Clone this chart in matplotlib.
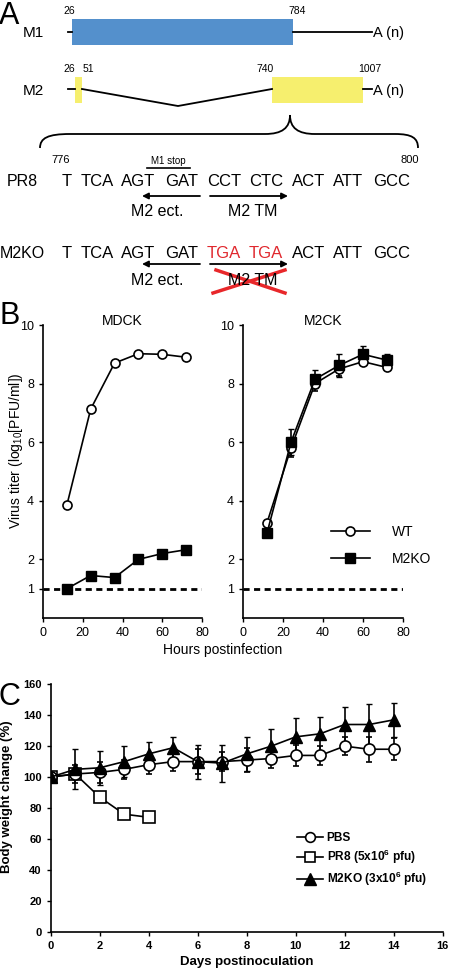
import matplotlib
matplotlib.use('Agg')
import matplotlib.pyplot as plt
from matplotlib.path import Path
from matplotlib.patches import PathPatch, Rectangle
from matplotlib.lines import Line2D
import numpy as np

plt.rcParams['font.family'] = ['Liberation Sans', 'DejaVu Sans']
plt.rcParams['mathtext.fontset'] = 'custom'
plt.rcParams['mathtext.rm'] = 'Liberation Sans'
plt.rcParams['mathtext.bf'] = 'Liberation Sans:bold'

# ---- panel A text ----
pr8_codons = ['T', 'TCA', 'AGT', 'GAT', 'CCT', 'CTC', 'ACT', 'ATT', 'GCC']
m2ko_codons = ['T', 'TCA', 'AGT', 'GAT', 'TGA', 'TGA', 'ACT', 'ATT', 'GCC']
mutated = [4, 5]

# ---- panel B: virus titer (log10 PFU/ml) ----
hours = [12, 24, 36, 48, 60, 72]
mdck_wt = [3.85, 7.13, 8.7, 9.02, 9.0, 8.9]
mdck_ko = [1.0, 1.45, 1.38, 2.0, 2.2, 2.33]
mdck_ko_err = [0, 0.1, 0, 0, 0, 0]
m2ck_wt = [3.25, 5.8, 8.0, 8.5, 8.75, 8.55]
m2ck_wt_err = [0.05, 0.3, 0.25, 0.25, 0.1, 0.1]
m2ck_ko = [2.9, 6.0, 8.15, 8.62, 9.0, 8.8]
m2ck_ko_err = [0.05, 0.45, 0.3, 0.4, 0.3, 0.2]

# ---- panel C: body weight (%) ----
days = list(range(15))
pbs = [100, 102, 103, 105, 108, 110, 110, 110, 111, 112, 114, 114, 120, 118, 118]
pbs_err = [0, 6, 7, 6, 6, 6, 8, 6, 8, 6, 7, 6, 6, 8, 7]
pr8_days = [0, 1, 2, 3, 4]
pr8 = [100, 102, 87, 76, 74]
ko = [100, 105, 106, 110, 115, 119, 110, 109, 115, 120, 126, 128, 134, 134, 137]
ko_err = [0, 13, 11, 10, 8, 7, 11, 12, 11, 11, 12, 11, 11, 13, 11]

fig = plt.figure(figsize=(4.5, 9.72), dpi=100)

# overlay in pixel units for the schematic
ax0 = fig.add_axes([0, 0, 1, 1])
ax0.set_xlim(0, 450)
ax0.set_ylim(972, 0)
ax0.axis('off')

blue = '#5490cc'
yellow = '#f6ef6e'

# M1 transcript
ax0.add_patch(Rectangle((72, 19), 221, 26, color=blue, lw=0))
ax0.plot([68, 72], [32, 32], color='k', lw=1.3)
ax0.plot([293, 372], [32, 32], color='k', lw=1.3)
ax0.text(373, 33, 'A (n)', fontsize=10.5, va='center')
ax0.text(23, 33, 'M1', fontsize=11, va='center')
ax0.text(69, 11, '26', fontsize=7.5, ha='center', va='center')
ax0.text(297, 11, '784', fontsize=7.5, ha='center', va='center')

# M2 transcript (spliced)
ax0.add_patch(Rectangle((75, 77), 7, 26, color=yellow, lw=0))
ax0.add_patch(Rectangle((272, 77), 91, 26, color=yellow, lw=0))
ax0.plot([68, 75], [89, 89], color='k', lw=1.3)
ax0.plot([363, 372], [89, 89], color='k', lw=1.3)
ax0.plot([82, 178, 272], [89, 106, 89], color='k', lw=1.3)
ax0.text(373, 91, 'A (n)', fontsize=10.5, va='center')
ax0.text(23, 91, 'M2', fontsize=11, va='center')
ax0.text(69, 69, '26', fontsize=7.5, ha='center', va='center')
ax0.text(88, 69, '51', fontsize=7.5, ha='center', va='center')
ax0.text(265, 69, '740', fontsize=7.5, ha='center', va='center')
ax0.text(370, 69, '1007', fontsize=7.5, ha='center', va='center')

# brace
verts = [(40, 148), (40, 138), (48, 134), (70, 134), (265, 134),
         (282, 134), (290, 128), (290, 115),
         (290, 128), (298, 134), (315, 134), (395, 134),
         (412, 134), (418, 138), (418, 148)]
codes = [Path.MOVETO, Path.CURVE4, Path.CURVE4, Path.CURVE4, Path.LINETO,
         Path.CURVE4, Path.CURVE4, Path.CURVE4,
         Path.CURVE4, Path.CURVE4, Path.CURVE4, Path.LINETO,
         Path.CURVE4, Path.CURVE4, Path.CURVE4]
ax0.add_patch(PathPatch(Path(verts, codes), fill=False, lw=1.3, color='k'))

codon_x = [67, 97, 138, 182, 224, 266, 309, 348, 392]
ax0.text(61, 160, '776', fontsize=8, ha='center', va='center')
ax0.text(410, 160, '800', fontsize=8, ha='center', va='center')
ax0.text(168, 161, 'M1 stop', fontsize=7, ha='center', va='center')
ax0.plot([147, 190], [168, 168], color='k', lw=1.2)

ax0.text(22, 182, 'PR8', fontsize=11.5, ha='center', va='center')
for cx, c in zip(codon_x, pr8_codons):
    ax0.text(cx, 182, c, fontsize=12, ha='center', va='center')
ax0.text(22, 253, 'M2KO', fontsize=11.5, ha='center', va='center')
for i, (cx, c) in enumerate(zip(codon_x, m2ko_codons)):
    col = '#e0282e' if i in mutated else 'k'
    ax0.text(cx, 253, c, fontsize=12, ha='center', va='center', color=col)

for yy in [196, 264]:
    ax0.annotate('', xy=(142, yy), xytext=(200, yy),
                 arrowprops=dict(arrowstyle='-|>', lw=1.3, color='k', mutation_scale=9, shrinkA=0, shrinkB=0))
    ax0.annotate('', xy=(288, yy), xytext=(210, yy),
                 arrowprops=dict(arrowstyle='-|>', lw=1.3, color='k', mutation_scale=9, shrinkA=0, shrinkB=0))
ax0.text(157, 211, 'M2 ect.', fontsize=11.5, ha='center', va='center')
ax0.text(253, 211, 'M2 TM', fontsize=11.5, ha='center', va='center')
ax0.text(157, 280, 'M2 ect.', fontsize=11.5, ha='center', va='center')
ax0.text(253, 280, 'M2 TM', fontsize=11.5, ha='center', va='center')
ax0.plot([213, 285], [293, 270], color='#e8272a', lw=2.5)
ax0.plot([216, 285], [270, 293], color='#e8272a', lw=2.5)

ax0.text(-1, 16, 'A', fontsize=22, va='center')
ax0.text(-1, 316, 'B', fontsize=22, va='center')
ax0.text(-1, 697, 'C', fontsize=22, va='center')

# ---- panel B ----
def style_b(ax, title):
    ax.set_xlim(0, 80)
    ax.set_ylim(0, 10)
    ax.set_xticks([0, 20, 40, 60, 80])
    ax.set_yticks([1, 2, 4, 6, 8, 10])
    for s in ['top', 'right']:
        ax.spines[s].set_visible(False)
    ax.spines['left'].set_linewidth(1.2)
    ax.spines['bottom'].set_linewidth(1.2)
    ax.tick_params(labelsize=9, length=3, width=1)
    ax.axhline(1, ls=(0, (2.2, 1.6)), lw=2, color='k', zorder=1)
    ax.text(0.5, 1.012, title, transform=ax.transAxes, ha='center', va='center', fontsize=10)

ax1 = fig.add_axes([43 / 450, 1 - 618 / 972, 159 / 450, 293 / 972])
style_b(ax1, 'MDCK')
ax1.errorbar(hours, mdck_ko, yerr=mdck_ko_err, fmt='s-', color='k', ms=6.5, lw=1.2, capsize=2, zorder=3)
ax1.plot(hours, mdck_wt, 'o-', color='k', mfc='white', ms=6.5, lw=1.2, mew=1.2, zorder=3)
ax1.set_ylabel('Virus titer (log$_{10}$[PFU/ml])', fontsize=10, va='center')
ax1.yaxis.set_label_coords(-0.17, 0.57)

ax2 = fig.add_axes([243 / 450, 1 - 618 / 972, 160 / 450, 293 / 972])
style_b(ax2, 'M2CK')
ax2.errorbar(hours, m2ck_wt, yerr=m2ck_wt_err, fmt='o-', color='k', mfc='white', ms=6.5, lw=1.2,
             mew=1.2, capsize=2, zorder=3)
ax2.errorbar(hours, m2ck_ko, yerr=m2ck_ko_err, fmt='s-', color='k', ms=6.5, lw=1.2, capsize=2,
             zorder=3)
b_handles = [Line2D([], [], color='k', marker='o', mfc='white', ms=6.5, lw=1.2, mew=1.2),
             Line2D([], [], color='k', marker='s', ms=6.5, lw=1.2)]
ax2.legend(b_handles, ['WT', 'M2KO'], loc='upper left', bbox_to_anchor=(0.47, 0.36), frameon=False,
           fontsize=10, handlelength=2.8, labelspacing=0.9, handletextpad=1.6)
fig.text(223 / 450, 1 - 650 / 972, 'Hours postinfection', ha='center', va='center', fontsize=10)

# ---- panel C ----
ax3 = fig.add_axes([50.7 / 450, 1 - 931.7 / 972, 392 / 450, 247.4 / 972])
ax3.set_xlim(0, 16)
ax3.set_ylim(0, 160)
ax3.set_xticks(range(0, 17, 2))
ax3.set_yticks(range(0, 161, 20))
for s in ['top', 'right']:
    ax3.spines[s].set_visible(False)
ax3.spines['left'].set_linewidth(1.2)
ax3.spines['bottom'].set_linewidth(1.2)
ax3.tick_params(labelsize=8, length=3, width=1)
for lab in ax3.get_xticklabels() + ax3.get_yticklabels():
    lab.set_fontweight('bold')
ax3.errorbar(days, pbs, yerr=pbs_err, fmt='o-', color='k', mfc='white', ms=8, lw=1.2, mew=1.2,
             capsize=2.5, zorder=3)
ax3.plot(pr8_days, pr8, 's-', color='k', mfc='white', ms=8.5, lw=1.2, mew=1.2, zorder=3)
ax3.errorbar(days, ko, yerr=ko_err, fmt='^-', color='k', ms=9, lw=1.2, capsize=2.5, zorder=3)
ax3.set_xlabel('Days postinoculation', fontsize=9.5, fontweight='bold')
ax3.set_ylabel('Body weight change (%)', fontsize=9.5, fontweight='bold', va='center')
ax3.yaxis.set_label_coords(-0.112, 0.544)
c_handles = [Line2D([], [], color='k', marker='o', mfc='white', ms=7, lw=1.2, mew=1.2),
             Line2D([], [], color='k', marker='s', mfc='white', ms=7.5, lw=1.2, mew=1.2),
             Line2D([], [], color='k', marker='^', ms=8, lw=1.2)]
c_labels = ['PBS', 'PR8 (5x10$^\\mathbf{6}$ pfu)', 'M2KO (3x10$^\\mathbf{6}$ pfu)']
ax3.legend(c_handles, c_labels, loc='upper left', bbox_to_anchor=(0.6, 0.445), frameon=False,
           prop={'weight': 'bold', 'size': 8.6}, handlelength=2.2, labelspacing=0.3, handletextpad=0.3)

fig.savefig('out.png', dpi=100)
